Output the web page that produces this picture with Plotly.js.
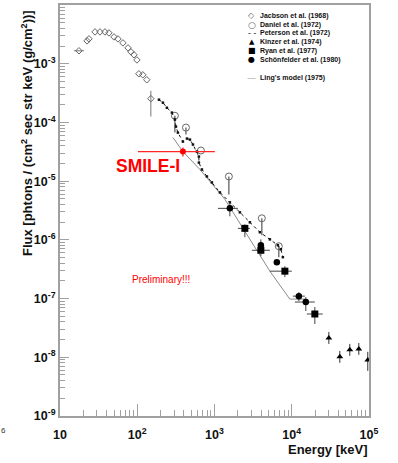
<!DOCTYPE html>
<html><head><meta charset="utf-8">
<script src="https://cdn.plot.ly/plotly-3.0.1.min.js"></script>
<style>html,body{margin:0;padding:0;background:#fff}#chart{width:398px;height:463px}</style>
</head><body><div id="chart"></div>
<script>
// Jacobson et al. (1968)
const jacE = [17.6, 22.4, 23.7, 28.4, 32.9, 38.2, 43.0, 50.0, 56.3, 65.3, 75.9, 82.9, 90.6, 99.1, 105, 118, 133, 150];
const jacF = [1.66e-3, 2.45e-3, 2.65e-3, 3.48e-3, 3.48e-3, 3.48e-3, 3.35e-3, 2.86e-3, 2.65e-3, 2.26e-3, 1.86e-3, 1.59e-3, 1.42e-3, 1.16e-3, 6.73e-4, 6.47e-4, 5.33e-4, 2.54e-4];
const jacFlo = [1.66e-3, 2.45e-3, 2.65e-3, 3.48e-3, 3.48e-3, 3.48e-3, 3.35e-3, 2.86e-3, 2.65e-3, 2.26e-3, 1.86e-3, 1.59e-3, 1.42e-3, 1.16e-3, 6.73e-4, 6.47e-4, 5.33e-4, 1.26e-4];
const jacFhi = [1.66e-3, 2.45e-3, 2.65e-3, 3.48e-3, 3.48e-3, 3.48e-3, 3.35e-3, 2.86e-3, 2.65e-3, 2.26e-3, 1.86e-3, 1.59e-3, 1.42e-3, 1.16e-3, 6.73e-4, 6.47e-4, 5.33e-4, 3.46e-4];
const jacElo = [15.2, 22.4, 23.7, 28.4, 32.9, 38.2, 43.0, 50.0, 56.3, 65.3, 75.9, 82.9, 90.6, 99.1, 105, 118, 133, 150];
const jacEhi = [20.4, 22.4, 23.7, 28.4, 32.9, 38.2, 43.0, 50.0, 56.3, 65.3, 75.9, 82.9, 90.6, 99.1, 105, 118, 133, 150];
// Daniel et al. (1972)
const danE = [307, 427, 667, 1535, 4100, 6800];
const danF = [1.30e-4, 8.17e-5, 3.32e-5, 1.20e-5, 2.33e-6, 7.78e-7];
const danFlo = [6.71e-5, 6.21e-5, 3.32e-5, 5.94e-6, 1.20e-6, 5.07e-7];
// Peterson et al. (1972)
const petE = [191, 215, 242, 281, 307, 317, 336, 390, 440, 481, 526, 592, 628, 628, 687, 798, 925, 1175, 1581, 2132, 2870, 3866, 5212, 6607, 7228, 7674];
const petF = [2.44e-4, 2.17e-4, 1.78e-4, 1.47e-4, 1.12e-4, 8.49e-5, 6.71e-5, 4.72e-5, 5.31e-5, 5.10e-5, 4.20e-5, 3.19e-5, 2.62e-5, 2.07e-5, 1.58e-5, 1.20e-5, 9.51e-6, 6.43e-6, 4.35e-6, 2.94e-6, 1.99e-6, 1.35e-6, 1.02e-6, 8.09e-7, 6.92e-7, 5.07e-7];
// Kinzer et al. (1974)
const kinE = [30200, 41900, 56400, 73800, 96400];
const kinF = [2.13e-8, 1.02e-8, 1.34e-8, 1.39e-8, 9.03e-9];
const kinFlo = [1.69e-8, 8.04e-9, 1.06e-8, 1.10e-8, 5.87e-9];
const kinFhi = [2.70e-8, 1.28e-8, 1.69e-8, 1.75e-8, 1.24e-8];
// Ryan et al. (1977)
const ryaE = [2472, 3981, 8150, 19900];
const ryaF = [1.57e-6, 6.65e-7, 2.93e-7, 5.46e-8];
const ryaElo = [2009, 3049, 5212, 15670];
const ryaEhi = [2870, 5212, 10020, 25200];
const ryaFlo = [1.11e-6, 5.27e-7, 2.32e-7, 3.69e-8];
const ryaFhi = [1.84e-6, 8.09e-7, 3.56e-7, 7.18e-8];
// Schönfelder et al. (1980)
const schE = [1581, 3981, 6410, 12360, 15210];
const schF = [3.44e-6, 8.09e-7, 4.17e-7, 1.10e-7, 8.73e-8];
const schElo = [1107, 3981, 6410, 10330, 10960];
const schEhi = [2009, 3981, 6410, 14760, 19900];
const schFlo = [2.52e-6, 8.09e-7, 4.17e-7, 9.08e-8, 6.14e-8];
const schFhi = [4.35e-6, 1.02e-6, 4.17e-7, 1.29e-7, 1.06e-7];
// Ling's model (1975)
const lingE = [290, 390, 647, 1365, 2472, 5212, 9440, 14760];
const lingF = [5.52e-5, 3.19e-5, 1.58e-5, 4.89e-6, 1.40e-6, 2.93e-7, 9.80e-8, 9.80e-8];
// SMILE-I
const smiE = [390];
const smiF = [3.19e-5];
const smiElo = [102];
const smiEhi = [1012];
const smiFlo = [2.62e-5];
const smiFhi = [3.73e-5];

const legendLabels = ["Jacbson et al. (1968)", "Daniel et al. (1972)", "Peterson et al. (1972)", "Kinzer et al. (1974)", "Ryan et al. (1977)", "Schönfelder et al. (1980)", "Ling's model (1975)"];
const legendSymbols = ["◇", "○", "- -", "▲", "■", "●", "—"];
const xTickVals = [10, 100, 1000, 10000, 100000];
const xTickText = ["10", "10<sup>2</sup>", "10<sup>3</sup>", "10<sup>4</sup>", "10<sup>5</sup>"];
const yTickVals = [1e-9, 1e-8, 1e-7, 1e-6, 1e-5, 1e-4, 1e-3, 1e-2];
const yTickText = ["10<sup>-9</sup>", "10<sup>-8</sup>", "10<sup>-7</sup>", "10<sup>-6</sup>", "10<sup>-5</sup>", "10<sup>-4</sup>", "10<sup>-3</sup>", "10<sup>-2</sup>"];

const up = (v, hi) => hi.map((h, i) => h - v[i]);
const dn = (v, lo) => lo.map((l, i) => v[i] - l);
const eb = (v, lo, hi, color, th) => ({visible: true, type: 'data', symmetric: false, array: up(v, hi), arrayminus: dn(v, lo), color: color, thickness: th || 1, width: 0});

const traces = [
  {x: lingE, y: lingF, mode: 'lines', line: {color: '#8a8a8a', width: 1}, hoverinfo: 'skip'},
  {x: jacE, y: jacF, mode: 'markers', marker: {symbol: 'diamond-open', size: 5, color: '#666', line: {width: 1}},
   error_y: eb(jacF, jacFlo, jacFhi, '#777'), error_x: eb(jacE, jacElo, jacEhi, '#777')},
  {x: danE, y: danF, mode: 'markers', marker: {symbol: 'circle-open', size: 7, color: '#666', line: {width: 1}},
   error_y: {type: 'data', symmetric: false, array: danF.map(() => 0), arrayminus: dn(danF, danFlo), color: '#555', thickness: 1.2, width: 0}},
  {x: petE, y: petF, mode: 'lines+markers', line: {color: '#111', width: 1, dash: 'dot'}, marker: {symbol: 'square', size: 2.5, color: '#111'}},
  {x: kinE, y: kinF, mode: 'markers', marker: {symbol: 'triangle-up', size: 6, color: '#000'},
   error_y: eb(kinF, kinFlo, kinFhi, '#333')},
  {x: ryaE, y: ryaF, mode: 'markers', marker: {symbol: 'square', size: 7, color: '#000'},
   error_y: eb(ryaF, ryaFlo, ryaFhi, '#444'), error_x: eb(ryaE, ryaElo, ryaEhi, '#444')},
  {x: schE, y: schF, mode: 'markers', marker: {symbol: 'circle', size: 6.5, color: '#000'},
   error_y: eb(schF, schFlo, schFhi, '#444'), error_x: eb(schE, schElo, schEhi, '#444')},
  {x: smiE, y: smiF, mode: 'markers', marker: {symbol: 'circle', size: 6, color: 'rgb(255,0,0)'},
   error_y: eb(smiF, smiFlo, smiFhi, 'rgb(255,40,40)', 1.3), error_x: Object.assign(eb(smiE, smiElo, smiEhi, 'rgb(255,40,40)', 1.3), {copy_ystyle: false})}
];
traces.forEach(t => { t.type = 'scatter'; t.showlegend = false; });

// minor tick positions: 2..9 within each decade
const minorTicks = (lo, hi) => { const r = []; for (let d = lo; d < hi; d++) for (let m = 2; m <= 9; m++) r.push(m * Math.pow(10, d)); return r; };

// plot area in pixels: x 60..369, y 5..416
const px = p => (p - 60) / 309;
const py = p => (416 - p) / 411;
const legendRows = [16, 24.5, 33, 42, 51, 60, 78];
const legendSymColors = ['#666', '#666', '#111', '#000', '#000', '#000', '#999'];
const legendSymSizes = [8, 9, 8, 7, 8, 8, 9];
const FONT = 'Liberation Sans, Arial, sans-serif';

const ann = [];
legendLabels.forEach((lab, i) => {
  ann.push({xref: 'paper', yref: 'paper', x: px(257.5), y: py(legendRows[i]), xanchor: 'left', yanchor: 'middle', showarrow: false,
    text: '<b>' + lab + '</b>', font: {family: FONT, size: 7, color: '#111'}});
  ann.push({xref: 'paper', yref: 'paper', x: px(251.5), y: py(legendRows[i]), xanchor: 'center', yanchor: 'middle', showarrow: false,
    text: legendSymbols[i], font: {family: 'DejaVu Sans, sans-serif', size: legendSymSizes[i], color: legendSymColors[i]}});
});
ann.push({xref: 'paper', yref: 'paper', x: px(148), y: py(166), xanchor: 'center', yanchor: 'middle', showarrow: false,
  text: '<b>SMILE-I</b>', font: {family: FONT, size: 17.5, color: '#ff0000'}});
ann.push({xref: 'paper', yref: 'paper', x: px(161), y: py(279), xanchor: 'center', yanchor: 'middle', showarrow: false,
  text: 'Preliminary!!!', font: {family: FONT, size: 10, color: '#ff0000'}});
ann.push({xref: 'paper', yref: 'paper', x: px(27), y: py(133), xanchor: 'center', yanchor: 'middle', textangle: -90, showarrow: false,
  text: '<b>Flux [phtons / (cm<sup>2</sup> sec str keV (g/cm<sup>2</sup>))]</b>', font: {family: FONT, size: 13, color: '#111'}});
ann.push({xref: 'paper', yref: 'paper', x: px(369), y: py(449), xanchor: 'right', yanchor: 'middle', showarrow: false,
  text: '<b>Energy [keV]</b>', font: {family: FONT, size: 13, color: '#111'}});
ann.push({xref: 'paper', yref: 'paper', x: px(3), y: py(430), xanchor: 'center', yanchor: 'middle', showarrow: false,
  text: '6', font: {family: FONT, size: 8, color: '#333'}});

const axisCommon = {
  type: 'log', showgrid: false, zeroline: false, showline: true, linecolor: '#a0a0a0', linewidth: 2, mirror: true,
  ticks: 'inside', tickcolor: '#a0a0a0', tickwidth: 1.2, tickmode: 'array',
  tickfont: {family: FONT, size: 12.5, color: '#111', weight: 'bold'}
};

const layout = {
  width: 398, height: 463,
  margin: {l: 60, r: 29, t: 5, b: 47},
  paper_bgcolor: '#fff', plot_bgcolor: '#fff',
  showlegend: false,
  xaxis: Object.assign({}, axisCommon, {range: [1, 5], tickvals: xTickVals, ticktext: xTickText, ticklen: 12, ticklabelstandoff: 6,
    minor: {tickmode: 'array', tickvals: minorTicks(1, 5), ticks: 'inside', ticklen: 6, tickcolor: '#a0a0a0', tickwidth: 1, showgrid: false}}),
  yaxis: Object.assign({}, axisCommon, {range: [-9, -2], tickvals: yTickVals, ticktext: yTickText, ticklen: 9, ticklabelstandoff: 0,
    minor: {tickmode: 'array', tickvals: minorTicks(-9, -2), ticks: 'inside', ticklen: 5, tickcolor: '#a0a0a0', tickwidth: 1, showgrid: false}}),
  annotations: ann
};

Plotly.newPlot('chart', traces, layout, {displayModeBar: false, staticPlot: true});
</script></body></html>
